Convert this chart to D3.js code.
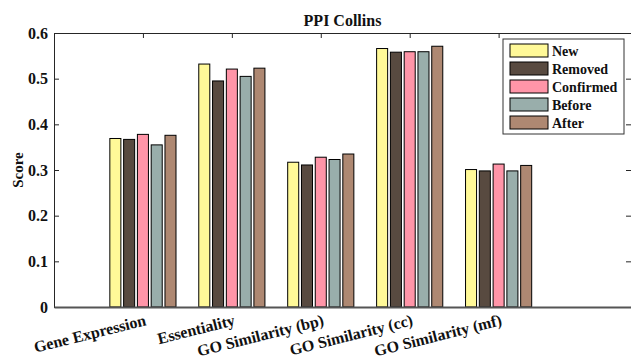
<!DOCTYPE html>
<html lang="en">
<head>
<meta charset="UTF-8">
<title>PPI Collins</title>
<script src="https://d3js.org/d3.v7.min.js"></script>
<style>
  body { margin: 0; background: #fff; }
  text { font-family: "Liberation Serif", "Times New Roman", serif; font-weight: bold; fill: #111; }
</style>
</head>
<body>
<svg width="631" height="360"></svg>
<script>
// data
const categories = ["Gene Expression", "Essentiality", "GO Similarity (bp)", "GO Similarity (cc)", "GO Similarity (mf)"];
const seriesNames = ["New", "Removed", "Confirmed", "Before", "After"];
const colors = ["#fff998", "#584a40", "#ff95a8", "#99aeab", "#ae8872"];
const newVals       = [0.369, 0.532, 0.317, 0.566, 0.301];
const removedVals   = [0.367, 0.495, 0.311, 0.558, 0.298];
const confirmedVals = [0.378, 0.521, 0.328, 0.559, 0.313];
const beforeVals    = [0.355, 0.505, 0.323, 0.559, 0.298];
const afterVals     = [0.376, 0.523, 0.335, 0.571, 0.310];
const yTicks = [0, 0.1, 0.2, 0.3, 0.4, 0.5, 0.6];

const values = [newVals, removedVals, confirmedVals, beforeVals, afterVals];

const svg = d3.select("svg");
const mLeft = 54, mRight = 631, mTop = 33, mBottom = 307;

const x = d3.scaleLinear().domain([0, 6.5]).range([mLeft, 632]);
const y = d3.scaleLinear().domain([0, 0.6]).range([mBottom, mTop]);

// bars inside a group, width of the group in category units
const groupW = 0.744;
const inner = d3.scaleBand().domain(seriesNames).range([-groupW / 2, groupW / 2]).paddingInner(0.2);

// bars
values.forEach((vals, si) => {
  svg.append("g").selectAll("rect")
    .data(vals)
    .enter().append("rect")
    .attr("x", (d, i) => x(i + 1 + inner(seriesNames[si])))
    .attr("y", d => y(d))
    .attr("width", x(inner.bandwidth()) - x(0))
    .attr("height", d => y(0) - y(d))
    .attr("fill", colors[si])
    .attr("stroke", "#000")
    .attr("stroke-width", 1);
});

// axes (MATLAB style box with inward ticks)
const axisColor = "#262626";
svg.append("g")
  .attr("transform", `translate(${mLeft},0)`)
  .call(d3.axisLeft(y).tickValues(yTicks).tickSize(-5).tickPadding(6).tickFormat(d => d === 0 ? "0" : d3.format(".1f")(d)))
  .call(g => g.select(".domain").attr("stroke", axisColor))
  .call(g => g.selectAll("line").attr("stroke", axisColor))
  .call(g => g.selectAll("text").attr("font-size", 16).attr("font-family", "Liberation Serif").attr("font-weight", "bold").attr("fill", "#111"));

svg.append("g")
  .attr("transform", `translate(${mRight},0)`)
  .call(d3.axisRight(y).tickValues(yTicks).tickSize(-5).tickFormat(""))
  .call(g => g.select(".domain").attr("stroke", axisColor))
  .call(g => g.selectAll("line").attr("stroke", axisColor));

svg.append("g")
  .attr("transform", `translate(0,${mTop})`)
  .call(d3.axisTop(x).tickValues([1, 2, 3, 4, 5]).tickSize(-5).tickFormat(""))
  .call(g => g.select(".domain").attr("stroke", axisColor))
  .call(g => g.selectAll("line").attr("stroke", axisColor));

svg.append("g")
  .attr("transform", `translate(0,${mBottom})`)
  .call(d3.axisBottom(x).tickValues([1, 2, 3, 4, 5]).tickSize(0).tickFormat(""))
  .call(g => g.select(".domain").attr("stroke", "#555").attr("stroke-width", 2));

// rotated category labels
svg.append("g").selectAll("text")
  .data(categories)
  .enter().append("text")
  .attr("transform", (d, i) => `translate(${x(i + 1) + 4},${325}) rotate(-14)`)
  .attr("text-anchor", "end")
  .attr("font-size", 16)
  .text(d => d);

// title and y label
svg.append("text")
  .attr("x", (mLeft + mRight) / 2)
  .attr("y", 26)
  .attr("text-anchor", "middle")
  .attr("font-size", 16)
  .text("PPI Collins");

svg.append("text")
  .attr("transform", `translate(23,${(mTop + mBottom) / 2}) rotate(-90)`)
  .attr("text-anchor", "middle")
  .attr("font-size", 15)
  .text("Score");

// legend
const legend = svg.append("g").attr("transform", "translate(503,39)");
legend.append("rect")
  .attr("width", 121).attr("height", 95)
  .attr("fill", "#fff").attr("stroke", "#333").attr("stroke-width", 1);
const items = legend.selectAll(".item")
  .data(seriesNames)
  .enter().append("g").attr("class", "item")
  .attr("transform", (d, i) => `translate(7,${5 + i * 18})`);
items.append("rect")
  .attr("width", 38).attr("height", 13)
  .attr("fill", (d, i) => colors[i])
  .attr("stroke", "#000");
items.append("text")
  .attr("x", 42).attr("y", 11.5)
  .attr("font-size", 14)
  .text(d => d);
</script>
</body>
</html>
